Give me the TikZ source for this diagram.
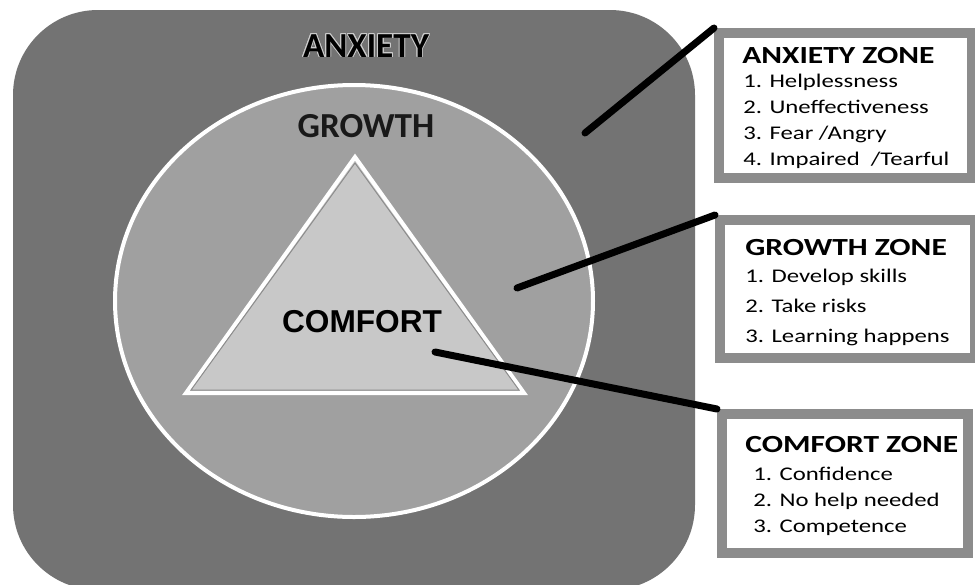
\documentclass[tikz,border=0pt]{standalone}
\usepackage{fontspec}
\setmainfont{Carlito}
\newfontfamily\zonefont[FakeStretch=1.28]{Carlito}
\newfontfamily\arialfont{Liberation Sans}
\usepackage[copies]{contour}
\contourlength{0.5pt}
\usetikzlibrary{positioning}
\definecolor{figdark}{HTML}{737373}
\definecolor{figmid}{HTML}{A0A0A0}
\definecolor{figlight}{HTML}{C8C8C8}
\definecolor{figframe}{HTML}{8C8C8C}
\tikzset{
  zonebox/.style={draw=figframe, fill=white, line width=2mm, inner sep=0pt},
  zonetitle/.style={font=\zonefont\bfseries\fontsize{14}{16}\selectfont,
    anchor=base west, inner sep=0pt},
  zoneitem/.style={font=\zonefont\fontsize{11}{13}\selectfont,
    anchor=base west, inner sep=0pt},
  arealabel/.style={font=\bfseries\fontsize{20}{24}\selectfont, anchor=base, inner sep=0pt},
  figlink/.style={line width=1.4mm, line cap=round, black},
}

\begin{document}
\begin{tikzpicture}[x=0.2mm, y=-0.2mm]
  \clip (0,0) rectangle (975,585);
  % nested zones
  \fill[figdark, rounded corners=17mm] (13,10) rectangle (695,590);
  \draw[fill=figmid, draw=white, line width=0.8mm]
    (354,301) ellipse [x radius=239, y radius=216];
  \draw[fill=figlight, draw=white, line width=0.8mm]
    (355,157) -- (524,393) -- (186,393) -- cycle;
  \draw[black!45, line width=0.2mm] (355,163) -- (519,390) -- (191,390) -- cycle;

  \node[arealabel] (anxlabel) at (366,57) {\contour{white!80!black}{ANXIETY}};
  \node[arealabel, text=black!90] (growlabel) at (366,137) {GROWTH};
  \node[arealabel, font=\arialfont\bfseries\fontsize{18}{22}\selectfont] (comflabel)
    at (362,332) {COMFORT};

  \coordinate (anxpoint) at (585,133);
  \coordinate (growpoint) at (517,288);
  \coordinate (comfpoint) at (435,352);

  % legend boxes
  \node[zonebox, minimum width=50.6mm, minimum height=29mm] (anxbox) at (845.5,105.5) {};
  \node[zonebox, minimum width=51mm, minimum height=27.6mm] (growbox) at (847.5,289) {};
  \node[zonebox, minimum width=49.2mm, minimum height=27.8mm] (comfbox) at (845,483.5) {};

  \draw[figlink] (anxpoint) -- (anxbox.north west);
  \draw[figlink] (growpoint) -- (growbox.north west);
  \draw[figlink] (comfpoint) -- (comfbox.north west);

  \node[zonetitle] (anxtitle) at (742,63) {ANXIETY ZONE};
  \foreach \txt [count=\i] in {1. Helplessness, 2. Uneffectiveness, 3. Fear /Angry,
      4. Impaired\ \ /Tearful}
    \node[zoneitem] (anxitem\i) at (743,{87+26*(\i-1)}) {\txt};

  \node[zonetitle] (growtitle) at (745,255) {GROWTH ZONE};
  \foreach \txt [count=\i] in {1. Develop skills, 2. Take risks, 3. Learning happens}
    \node[zoneitem] (growitem\i) at (745,{282+30*(\i-1)}) {\txt};

  \node[zonetitle] (comftitle) at (745,452) {COMFORT ZONE};
  \foreach \txt [count=\i] in {1. Confidence, 2. No help needed, 3. Competence}
    \node[zoneitem] (comfitem\i) at (753,{480+26*(\i-1)}) {\txt};
\end{tikzpicture}
\end{document}
